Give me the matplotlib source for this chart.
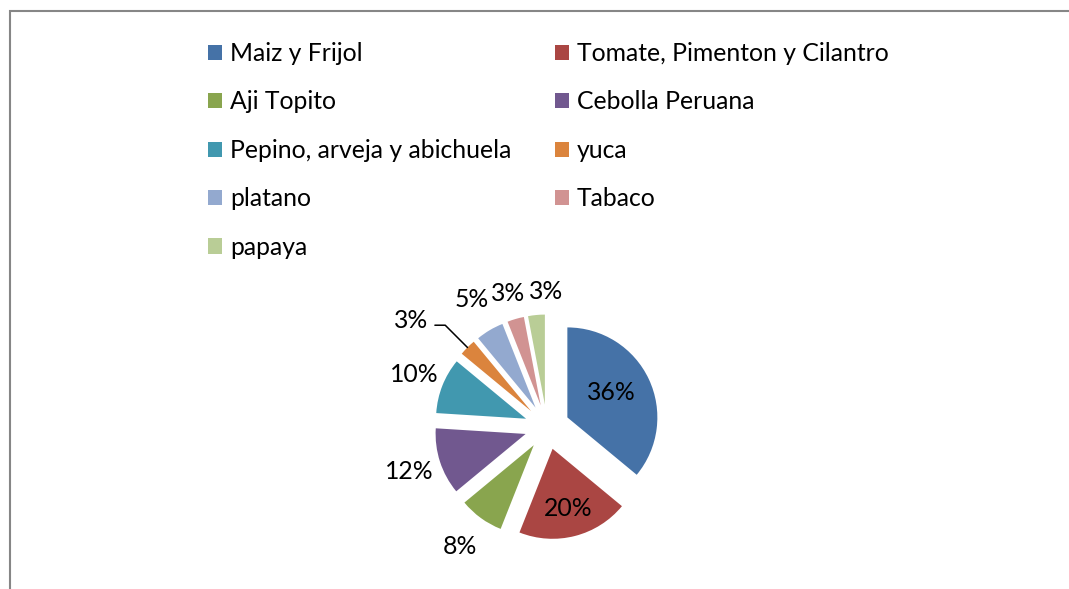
import numpy as np
import matplotlib
matplotlib.use('Agg')
import matplotlib.pyplot as plt
from matplotlib.patches import Patch, Rectangle

# crop shares, in percent
crops = ['Maiz y Frijol', 'Tomate, Pimenton y Cilantro', 'Aji Topito', 'Cebolla Peruana',
         'Pepino, arveja y abichuela', 'yuca', 'platano', 'Tabaco', 'papaya']
shares = [36, 20, 8, 12, 10, 3, 5, 3, 3]
colors = ['#4572A7', '#AA4643', '#89A54E', '#71588F', '#4198AF',
          '#DB843D', '#93A9CF', '#D19392', '#B9CD96']

# label distance from pie centre (radius units) and small angle nudges
label_dist = [0.81, 0.94, 1.64, 1.61, 1.59, 1.92, 1.65, 1.55, 1.51]
label_nudge = [3, 0, 0, 0, 0, 7, 0, 0, -5]

plt.rcParams['font.family'] = ['Lato', 'DejaVu Sans']
fs = 17.8

W, H = 1069, 589
cx, cy, R = 547, 427, 90   # pie centre and radius in pixels

fig = plt.figure(figsize=(W / 100, H / 100), dpi=100)
ax = fig.add_axes([0, 0, 1, 1])

wedges, _ = ax.pie(shares, explode=[0.25] * len(shares), colors=colors,
                   startangle=90, counterclock=False, radius=1,
                   wedgeprops=dict(linewidth=0))

ax.set_xlim(-cx / R, (W - cx) / R)
ax.set_ylim(-(H - cy) / R, cy / R)
ax.set_aspect('auto')
ax.axis('off')

for i, w in enumerate(wedges):
    mid = np.deg2rad((w.theta1 + w.theta2) / 2 + label_nudge[i])
    d = label_dist[i]
    pos = (d * np.cos(mid), d * np.sin(mid))
    txt = '%d%%' % shares[i]
    if crops[i] == 'yuca':
        m0 = np.deg2rad((w.theta1 + w.theta2) / 2)
        tip = (1.25 * np.cos(m0), 1.25 * np.sin(m0))
        ax.annotate(txt, xy=tip, xytext=pos, fontsize=fs, ha='center', va='center',
                    arrowprops=dict(arrowstyle='-', color='black', lw=1.1,
                                    shrinkA=3, shrinkB=0, relpos=(1, 0.3),
                                    connectionstyle='angle,angleA=0,angleB=135,rad=0'))
    else:
        ax.text(pos[0], pos[1], txt, fontsize=fs, ha='center', va='center')

# legend laid out row-wise in two columns
handles = [Patch(facecolor=c, edgecolor='none') for c in colors]
for col, x0 in enumerate([208 / W, 555 / W]):
    idx = list(range(col, len(crops), 2))
    fig.legend([handles[i] for i in idx], [crops[i] for i in idx],
               loc='upper left', bbox_to_anchor=(x0, 1 - 42 / H),
               frameon=False, fontsize=fs, borderpad=0, borderaxespad=0,
               handlelength=0.58, handleheight=0.58, handletextpad=0.3,
               labelspacing=1.03)

# chart frame (cut off at the right and bottom)
fig.patches.append(Rectangle((9.5 / W, -0.1), 1.2, 1.1 - 11.5 / H,
                             transform=fig.transFigure, fill=False,
                             edgecolor='#868686', lw=1.5))

fig.savefig('out.png', dpi=100)
